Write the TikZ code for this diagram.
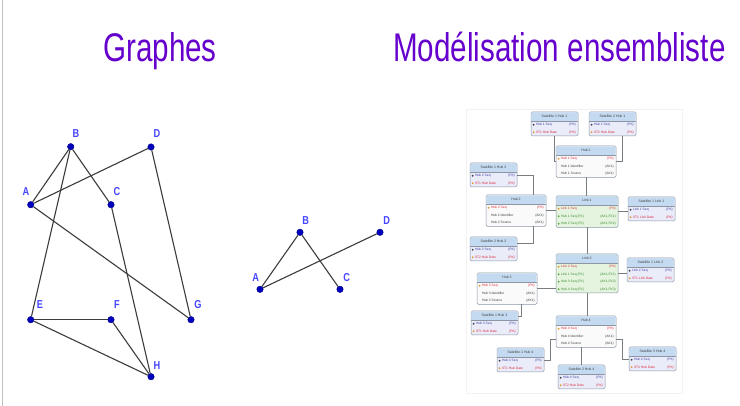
\documentclass[tikz,border=0pt]{standalone}
\usepackage{fontspec}
\setmainfont{Liberation Sans}
\usetikzlibrary{calc}

\definecolor{titlecol}{RGB}{102,0,204}
\definecolor{edgecol}{RGB}{60,60,60}
\definecolor{vertexcol}{RGB}{0,0,190}
\definecolor{labelcol}{RGB}{70,70,255}
\definecolor{entline}{RGB}{140,150,165}
\definecolor{hdrblue}{RGB}{196,218,240}
\definecolor{satbody}{RGB}{234,236,250}
\definecolor{hubbody}{RGB}{250,250,250}
\definecolor{linkbody}{RGB}{228,244,222}
\definecolor{keyorange}{RGB}{230,150,40}
\definecolor{keydark}{RGB}{60,60,70}
\definecolor{keygreen}{RGB}{90,160,60}
\definecolor{pkred}{RGB}{220,40,60}
\definecolor{fkgreen}{RGB}{60,140,50}
\definecolor{plain}{RGB}{60,60,60}
\definecolor{satblue}{RGB}{60,60,160}
\definecolor{conncol}{RGB}{120,125,130}

\tikzset{
  vertex/.style={circle, fill=vertexcol, draw=vertexcol!70!black, line width=0.4pt,
                 inner sep=0pt, minimum size=6.5pt},
  vlabel/.style={text=labelcol, inner sep=0pt, font=\bfseries},
  edge/.style={draw=edgecol, line width=1.1pt},
  title/.style={text=titlecol, inner sep=0pt, anchor=base west},
  entbox/.style={draw=entline, line width=0.5pt, rounded corners=1.5pt,
                 inner sep=0pt, outer sep=0pt},
  conn/.style={draw=conncol, line width=0.5pt},
  rowtext/.style={font=\fontsize{3.3}{3.3}\selectfont, inner sep=0pt},
  hdrtext/.style={font=\fontsize{3.5}{3.5}\selectfont, text=black!75, inner sep=0pt},
}

% A table box: name, left, top, width, number of rows, body colour, title
\newcommand{\entity}[7]{%
  \node[entbox, fill=#6, minimum width=#4pt, minimum height={(9+7.5*#5)*1pt},
        anchor=north west] (#1) at (#2,#3) {};
  \fill[hdrblue, rounded corners=1.2pt] (#2+0.4,#3+0.4) rectangle (#2+#4-0.4,#3+9);
  \draw[entline, line width=0.3pt] (#2,#3+9) -- (#2+#4,#3+9);
  \node[hdrtext] at (#2+#4/2,#3+4.6) {#7};
}
% One row of a table box: left, top, width, row index, icon colour, text colour, column, key
\newcommand{\entrow}[8]{%
  \fill[#5] (#1+2.6,#2+5.25+7.5*#4) circle (1.1pt);
  \node[rowtext, text=#6, anchor=west] at (#1+4.8,#2+5.25+7.5*#4) {#7};
  \node[rowtext, text=#6, anchor=east] at (#1+#3-2,#2+5.25+7.5*#4) {#8};
}
% Satellite table: name, left, top, title, parent key, date column
\newcommand{\satellite}[6]{%
  \entity{#1}{#2}{#3}{47}{2}{satbody}{#4}
  \entrow{#2}{#3}{47}{1}{keydark}{satblue}{#5}{(PK)}
  \entrow{#2}{#3}{47}{2}{keyorange}{pkred}{#6}{(PK)}
}
% Hub table: name, left, top, number
\newcommand{\hub}[4]{%
  \entity{#1}{#2}{#3}{60}{3}{hubbody}{Hub #4}
  \entrow{#2}{#3}{60}{1}{keyorange}{pkred}{Hub #4 Seq}{(PK)}
  \entrow{#2}{#3}{60}{2}{hubbody}{plain}{Hub #4 Identifier}{(AK1)}
  \entrow{#2}{#3}{60}{3}{hubbody}{plain}{Hub #4 Source}{(AK1)}
}

\begin{document}
\begin{tikzpicture}[x=1pt, y=-1pt]
\useasboundingbox (0,0) rectangle (740,406);
\fill[white] (0,0) rectangle (740,406);
\draw[black!25, line width=1pt] (2.5,0) -- (2.5,406);

% Titles
\node[title] (t1) at (103,62) {\scalebox{0.74}[1]{\fontsize{40}{40}\selectfont Graphes}};
\node[title] (t2) at (393,62) {\scalebox{0.74}[1]{\fontsize{40}{40}\selectfont Modélisation ensembliste}};

% First graph
\node[vertex] (A) at (30.7,204.7) {};
\node[vertex] (B) at (70.7,146.7) {};
\node[vertex] (C) at (111,204.7) {};
\node[vertex] (D) at (151,147) {};
\node[vertex] (E) at (30.7,319.7) {};
\node[vertex] (F) at (111,319.7) {};
\node[vertex] (G) at (191,319.7) {};
\node[vertex] (H) at (151,376.7) {};
\foreach \n/\x/\y in {A/26/191.5, B/76/134, C/117/191.5, D/157/134,
                      E/40/305, F/117/305, G/198/305, H/157/366}
  \node[vlabel] (l\n) at (\x,\y) {\scalebox{0.8}[1]{\fontsize{11.5}{11.5}\selectfont\bfseries \n}};
\foreach \u/\v in {A/B, A/D, A/G, B/C, B/E, C/H, D/G, E/F, E/H, F/H}
  \draw[edge] (\u) -- (\v);

% Second graph
\node[vertex] (a) at (260,289.3) {};
\node[vertex] (b) at (300,232.3) {};
\node[vertex] (c) at (340,289.3) {};
\node[vertex] (d) at (380,232.3) {};
\foreach \n/\t/\x/\y in {a/A/255.7/277.5, b/B/305.7/220.5, c/C/346.7/277.5, d/D/386.7/220.5}
  \node[vlabel] (l2\n) at (\x,\y) {\scalebox{0.8}[1]{\fontsize{11.5}{11.5}\selectfont\bfseries \t}};
\foreach \u/\v in {a/b, a/d, b/c}
  \draw[edge] (\u) -- (\v);

% Data model panel
\draw[black!5, fill=white] (466,109) rectangle (682,393);

\satellite{satA}{531}{112}{Satellite 1 Hub 1}{Hub 1 Seq}{ST1 Hub Date}
\satellite{satB}{589}{112}{Satellite 2 Hub 1}{Hub 1 Seq}{ST2 Hub Date}
\hub{hub1}{556}{146}{1}
\satellite{satC}{470}{163}{Satellite 1 Hub 2}{Hub 2 Seq}{ST1 Hub Date}
\hub{hub2}{486}{195}{2}

\entity{link1}{556}{196}{62}{3}{linkbody}{Link 1}
\entrow{556}{196}{62}{1}{keyorange}{pkred}{Link 1 Seq}{(PK)}
\entrow{556}{196}{62}{2}{keygreen}{fkgreen}{Hub 1 Seq (FK)}{(AK1,FK1)}
\entrow{556}{196}{62}{3}{keygreen}{fkgreen}{Hub 2 Seq (FK)}{(AK1,FK2)}

\satellite{satL1}{628}{197}{Satellite 1 Link 1}{Link 1 Seq}{ST1 Link Date}
\satellite{satD}{470}{237}{Satellite 2 Hub 2}{Hub 2 Seq}{ST2 Hub Date}
\hub{hub3}{477}{273}{3}

\entity{link2}{556}{254}{62}{4}{linkbody}{Link 2}
\entrow{556}{254}{62}{1}{keyorange}{pkred}{Link 2 Seq}{(PK)}
\entrow{556}{254}{62}{2}{keygreen}{fkgreen}{Link 1 Seq (FK)}{(AK1,FK1)}
\entrow{556}{254}{62}{3}{keygreen}{fkgreen}{Hub 3 Seq (FK)}{(AK1,FK2)}
\entrow{556}{254}{62}{4}{keygreen}{fkgreen}{Hub 4 Seq (FK)}{(AK1,FK3)}

\satellite{satL2}{627}{258}{Satellite 1 Link 2}{Link 2 Seq}{ST1 Link Date}
\satellite{satE}{471}{311}{Satellite 1 Hub 3}{Hub 3 Seq}{ST1 Hub Date}
\hub{hub4}{556}{316}{4}
\satellite{satF}{497}{348}{Satellite 1 Hub 4}{Hub 4 Seq}{ST1 Hub Date}
\satellite{satG}{558}{365}{Satellite 2 Hub 4}{Hub 4 Seq}{ST2 Hub Date}
\satellite{satH}{629}{347}{Satellite 3 Hub 4}{Hub 4 Seq}{ST3 Hub Date}

% Relationships
\draw[conn] (satA.south) |- (hub1.west);
\draw[conn] ([xshift=10pt]satB.south) |- (hub1.east);
\draw[conn] (satC.east) -| ([xshift=17pt]hub2.north);
\draw[conn] (hub2.east) -- (hub2.east -| link1.west);
\draw[conn] (hub1.south) -- (hub1.south |- link1.north);
\draw[conn] (link1.south) -- (link1.south |- link2.north);
\draw[conn] (link1.east) -- (link1.east -| satL1.west);
\draw[conn] ([xshift=17pt]hub2.south) |- ([yshift=6pt]satD.east);
\draw[conn] (hub3.east) -- (hub3.east -| link2.west);
\draw[conn] (link2.east) -- (link2.east -| satL2.west);
\draw[conn] ([xshift=14pt]hub3.south) |- ([yshift=7pt]satE.east);
\draw[conn] (link2.south) -- (link2.south |- hub4.north);
\draw[conn] ([yshift=-8pt]hub4.west) -- ++(-6pt,0) |- (satF.east);
\draw[conn] (satG.north |- hub4.south) -- (satG.north);
\draw[conn] ([yshift=-8pt]hub4.east) -- ++(6pt,0) |- (satH.west);
\end{tikzpicture}
\end{document}
